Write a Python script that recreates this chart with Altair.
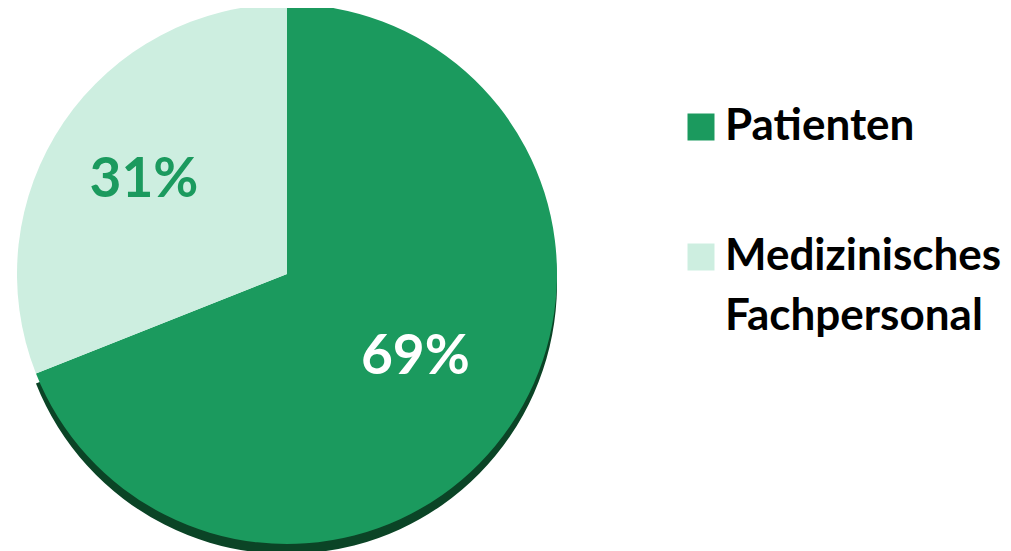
import altair as alt
import pandas as pd

categories = ["Patienten", "Medizinisches Fachpersonal"]
shares = [69, 31]
labels = ["69%", "31%"]
order = [0, 1]

colors = ["#1b9a5e", "#cdeee0"]
shadow_color = "#0b4426"

df = pd.DataFrame({"category": categories, "share": shares, "label": labels, "order": order})

color_scale = alt.Scale(domain=categories, range=colors)

base = alt.Chart(df).encode(
    theta=alt.Theta("share:Q", stack=True),
    order=alt.Order("order:Q"),
)

shadow = base.mark_arc(outerRadius=270, yOffset=10, color=shadow_color, strokeWidth=0).encode(
    opacity=alt.condition("datum.category == 'Patienten'", alt.value(1), alt.value(0))
)

pie = base.mark_arc(outerRadius=270, strokeWidth=0).encode(
    color=alt.Color(
        "category:N",
        scale=color_scale,
        sort=categories,
        legend=alt.Legend(
            title=None,
            orient="none",
            legendX=671,
            legendY=97,
            padding=0,
            symbolType="square",
            symbolSize=729,
            symbolStrokeWidth=0,
            symbolOpacity=1,
            labelFont="Lato",
            labelFontSize=44,
            labelFontWeight="bold",
            labelColor="black",
            labelOffset=2,
            labelLimit=500,
            rowPadding=86,
            labelExpr="datum.label == 'Medizinisches Fachpersonal' ? ['Medizinisches', 'Fachpersonal'] : datum.label",
        ),
    )
)

text_big = base.mark_text(radius=148, dx=6, fontSize=55, font="Lato", fontWeight="bold", color="white").encode(
    text="label:N",
    opacity=alt.condition("datum.category == 'Patienten'", alt.value(1), alt.value(0)),
)
text_small = base.mark_text(radius=173, dy=3, fontSize=55, font="Lato", fontWeight="bold", color="#1b9a5e").encode(
    text="label:N",
    opacity=alt.condition("datum.category == 'Patienten'", alt.value(0), alt.value(1)),
)

chart = (
    alt.layer(shadow, pie, text_big, text_small)
    .properties(
        width=558,
        height=532,
        padding={"left": 0, "top": 0, "right": 437, "bottom": 12},
        autosize=alt.AutoSizeParams(type="none"),
    )
    .configure_view(strokeWidth=0)
    .configure(style={"guide-label": {"lineHeight": 60}})
)

chart.save("out.html", embed_options={"renderer": "svg", "actions": False})
